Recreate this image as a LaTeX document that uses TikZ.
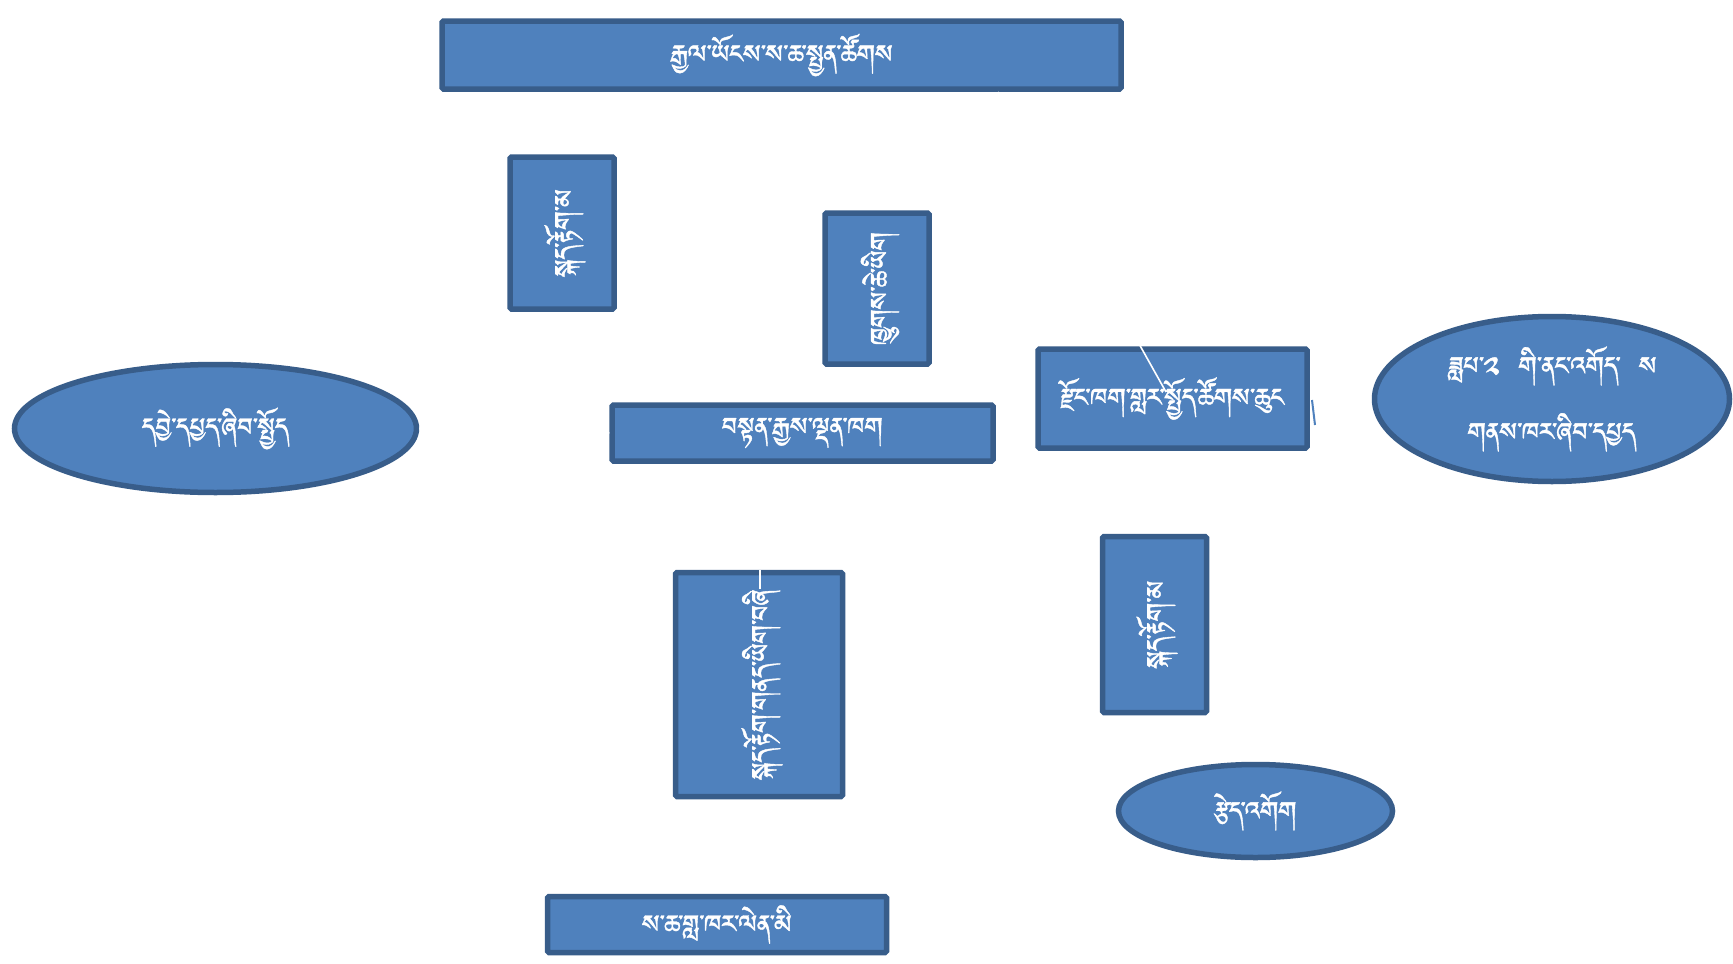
\documentclass[tikz,border=0pt]{standalone}
\usepackage{fontspec}
\usetikzlibrary{shapes.geometric}
\IfFontExistsTF{Jomolhari}{\newfontfamily\tibfont[Script=Tibetan,FakeBold=1.2]{Jomolhari}}{%
  \IfFontExistsTF{Tibetan Machine Uni}{\newfontfamily\tibfont[Script=Tibetan,FakeBold=1.2]{Tibetan Machine Uni}}{%
   \IfFontExistsTF{FreeSerif}{\newfontfamily\tibfont[FakeBold=1.2]{FreeSerif}}{\newfontfamily\tibfont{DejaVu Sans}}}}
\definecolor{fillb}{HTML}{4F81BD}
\definecolor{edgeb}{HTML}{385D8A}
\tikzset{
  shp/.style={draw=edgeb, fill=fillb, line width=5.5pt, inner sep=0pt, text=white,
    font=\tibfont\fontsize{32}{36}\selectfont},
  rbox/.style={shp, rectangle, rounded corners=1.5pt},
  oval/.style={shp, ellipse},
  vtext/.style={text=white, rotate=90, inner sep=0pt, font=\tibfont\fontsize{32}{36}\selectfont},
  wline/.style={draw=white, line width=1.6pt},
}
\begin{document}
\begin{tikzpicture}[x=1pt,y=-1pt]
\useasboundingbox[fill=white] (0,0) rectangle (1733,964);
% white connectors (behind)
\coordinate (t1) at (632,92);
\coordinate (t2) at (951,92);
\coordinate (t3) at (998,92);
\coordinate (m1) at (632,402);
\coordinate (m2) at (951,402);
\draw[wline] (t1) -- (m1);
\draw[wline] (t2) -- (m2);
% shapes
\node[rbox, minimum width=679pt, minimum height=68pt] (top) at (781.5,55) {རྒྱལ་ཡོངས་ས་ཆ་སྤྱན་ཚོགས};
\node[rbox, minimum width=104pt, minimum height=152pt] (lv) at (562,233) {};
\node[vtext] (lvt) at (565,233) {སྐད་རྟོག་མ};
\node[rbox, minimum width=104pt, minimum height=151pt] (mv) at (877,288.5) {};
\node[vtext] (mvt) at (880,288.5) {ཁྱུགས་ཆེ་ཡིག};
\node[rbox, minimum width=381pt, minimum height=56pt] (mh) at (802.5,433) {བསྟན་རྒྱས་ལྡན་ཁག};
\node[rbox, minimum width=269pt, minimum height=99pt] (rr) at (1172.5,398.5) {རྫོང་ཁག་གླར་སྤྱོད་ཚོགས་ཆུང};
\node[oval, minimum width=355pt, minimum height=165pt, align=center,
  font=\tibfont\fontsize{32}{66}\selectfont] (re) at (1552,399) {ཟླཔ་༢~~གི་ནང་འགོད་~~ས\\གནས་ཁར་ཞིབ་དཔྱད};
\node[oval, minimum width=402pt, minimum height=128pt] (le) at (215.5,428.5) {དབྱེ་དཔྱད་ཞིབ་སྤྱོད};
\coordinate (lvtop) at (760,570);
\draw[wline] (mh.south -| lvtop) -- (lvtop);
\draw[wline] (mh.west) -- (le.east);
\node[rbox, minimum width=167pt, minimum height=224pt] (lo) at (759,684.5) {};
\node[vtext] (lot) at (762,684.5) {སྐད་རྟོག་གནད་ཡིག་བཞི};
\draw[wline] (lvtop) -- (lot.east -| lvtop);
\node[rbox, minimum width=104pt, minimum height=176pt] (rv) at (1154.5,624.5) {};
\node[vtext] (rvt) at (1157,624.5) {སྐད་རྟོག་མ};
\coordinate (rb) at (1229,451);
\coordinate (se1) at (1229,762);
\draw[wline] (rb) -- (se1);
\node[oval, minimum width=274pt, minimum height=93pt] (se) at (1255.5,811) {རྩེད་འགོག};
\node[rbox, minimum width=339pt, minimum height=56pt] (bb) at (717,924.5) {ས་ཆ་གླ་ཁར་ལེན་མི};
% visible connector pieces on top
\coordinate (dg) at (1166,392);
\draw[wline] (t3) -- (dg);
\coordinate (bl1) at (1312,400);
\coordinate (bl2) at (1315,425);
\draw[draw=fillb, line width=2pt] (bl1) -- (bl2);
\end{tikzpicture}
\end{document}
